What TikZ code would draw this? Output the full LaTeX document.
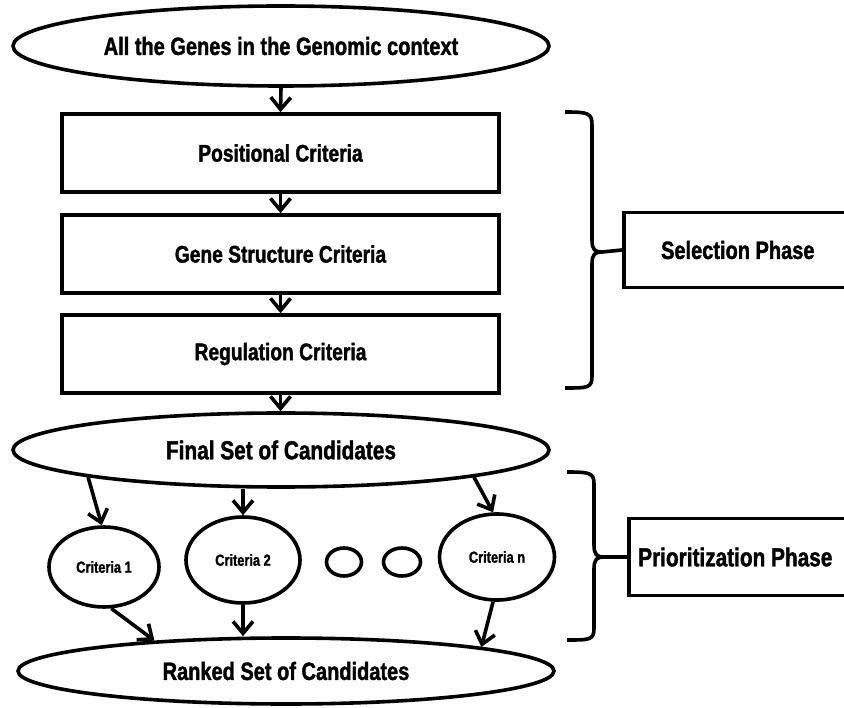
\documentclass[tikz,border=0pt]{standalone}
\usepackage{fontspec}
\setmainfont[FakeStretch=0.8,BoldFeatures={FakeBold=1.5}]{Liberation Sans}
\usetikzlibrary{shapes.geometric,arrows.meta}
\begin{document}
\begin{tikzpicture}[x=1pt,y=-1pt,
  line width=3.6pt,
  arr/.style={-{Straight Barb[length=12pt,width=20pt,line width=3.6pt]}},
  oval/.style={ellipse,draw,inner sep=0pt,font=\bfseries\fontsize{25}{29}\selectfont},
  crit/.style={ellipse,draw,inner sep=0pt,font=\bfseries\fontsize{16}{18}\selectfont},
  dot/.style={ellipse,draw,inner sep=0pt,minimum width=35pt,minimum height=28pt},
  boxnode/.style={rectangle,draw,minimum width=437pt,minimum height=78pt,font=\bfseries\fontsize{24}{28}\selectfont},
  phase/.style={rectangle,draw,anchor=west,font=\bfseries\fontsize{25}{29}\selectfont},
  brace/.style={line width=3.6pt,line join=round}]
\useasboundingbox (0,0) rectangle (844,708);

\node[oval,minimum width=536pt,minimum height=80pt] (all) at (281,46) {All the Genes in the Genomic context};
\node[boxnode] (pos) at (280.5,153) {Positional Criteria};
\node[boxnode] (gene) at (280.5,254) {Gene Structure Criteria};
\node[boxnode] (reg) at (280.5,354) {Regulation Criteria};
\node[oval,minimum width=536pt,minimum height=74pt,font=\bfseries\fontsize{26}{30}\selectfont] (final) at (281,450) {Final Set of Candidates};
\node[crit,minimum width=110pt,minimum height=80pt] (c1) at (104,567) {Criteria 1};
\node[crit,minimum width=114pt,minimum height=86pt] (c2) at (243,560) {Criteria 2};
\node[dot] (d1) at (344,562) {};
\node[dot,minimum width=37pt] (d2) at (402,562) {};
\node[crit,minimum width=115pt,minimum height=86pt] (cn) at (497,557) {Criteria n};
\node[oval,minimum width=536pt,minimum height=66pt] (ranked) at (286,671) {Ranked Set of Candidates};

\draw[arr] (all.south) -- (pos.north);
\draw[arr] (pos.south) -- (gene.north);
\draw[arr] (gene.south) -- (reg.north);
\draw[arr] (reg.south) -- (final.north -| reg.south);
\draw[arr] (final.188) -- (c1.93);
\draw[arr] (final.south -| c2.north) -- (c2.north);
\draw[arr] (final.-8) -- (cn.95);
\draw[arr] (c1.-80) -- (ranked.167);
\draw[arr] (c2.south) -- (ranked.north -| c2.south);
\draw[arr] (cn.-95) -- (ranked.7);

% Selection brace
\node[phase,minimum width=230pt,minimum height=75pt] (sel) at (622,250) {\hspace*{-2pt}Selection Phase};
\coordinate (stip) at (602,252);
\draw[brace] (565,112) .. controls (588,112) and (592,113) .. (592,125) -- (592,240)
  .. controls (592,250) and (595,252) .. (stip)
  .. controls (595,252) and (592,254) .. (592,264) -- (592,376)
  .. controls (592,388) and (588,388) .. (565,388);
\draw (stip) -- (sel.west);

% Prioritization brace
\node[phase,minimum width=225pt,minimum height=77pt,font=\bfseries\fontsize{26}{30}\selectfont] (pri) at (627,557) {\hspace*{-12pt}Prioritization Phase};
\coordinate (ptip) at (604,557);
\draw[brace] (567,472) .. controls (590,472) and (594,473) .. (594,484) -- (594,545)
  .. controls (594,555) and (597,557) .. (ptip)
  .. controls (597,557) and (594,559) .. (594,569) -- (594,628)
  .. controls (594,640) and (590,640) .. (567,640);
\draw (ptip) -- (pri.west);
\end{tikzpicture}
\end{document}
